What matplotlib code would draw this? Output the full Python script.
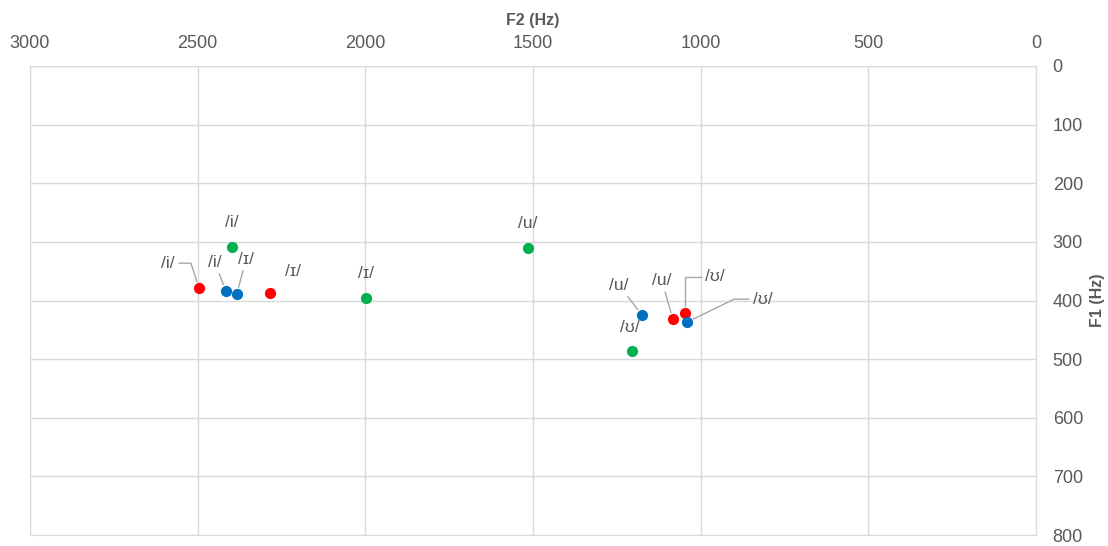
import matplotlib
matplotlib.use("Agg")
import matplotlib.pyplot as plt

plt.rcParams['font.family'] = ['Liberation Sans', 'DejaVu Sans']

# Data: three series (F2, F1) with vowel labels
red_f2 = [2496, 2284, 1083, 1047]
red_f1 = [379, 387, 432, 421]
red_lab = ['/i/', '/ɪ/', '/u/', '/ʊ/']

blue_f2 = [2416, 2383, 1175, 1041]
blue_f1 = [384, 389, 425, 437]
blue_lab = ['/i/', '/ɪ/', '/u/', '/ʊ/']

green_f2 = [2397, 1998, 1515, 1205]
green_f1 = [309, 396, 310, 486]
green_lab = ['/i/', '/ɪ/', '/u/', '/ʊ/']

x_ticks = [3000, 2500, 2000, 1500, 1000, 500, 0]
y_ticks = [0, 100, 200, 300, 400, 500, 600, 700, 800]

# label offsets in pixels (dx, dy) and leader style
red_off = [(-31, 25, 'angle,angleA=0,angleB=-72,rad=0'), (23, 21, None),
           (-11, 39, 'arc3'), (30, 36, 'angle,angleA=0,angleB=90,rad=0')]
blue_off = [(-11, 29, 'arc3'), (9, 35, 'arc3'),
            (-23, 30, 'arc3'), (76, 23, 'angle,angleA=0,angleB=26,rad=0')]
green_off = [(0, 25, None), (0, 25, None), (0, 24, None), (-2, 23, None)]

fig = plt.figure(figsize=(11.08, 5.46), dpi=100)
ax = fig.add_axes([30/1108, 1-535/546, (1036-30)/1108, (535-66)/546])

grid_c = '#d9d9d9'
text_c = '#595959'

for f2, f1, labs, offs, col in [
        (red_f2, red_f1, red_lab, red_off, '#FF0000'),
        (blue_f2, blue_f1, blue_lab, blue_off, '#0070C0'),
        (green_f2, green_f1, green_lab, green_off, '#00B050')]:
    ax.scatter(f2, f1, s=65, color=col, zorder=3, linewidths=0)
    for x, y, lab, (dx, dy, cs) in zip(f2, f1, labs, offs):
        kw = {}
        if cs is not None:
            kw['arrowprops'] = dict(arrowstyle='-', color='#a6a6a6', lw=1,
                                    shrinkA=1, shrinkB=5, connectionstyle=cs)
        ax.annotate(lab, (x, y), xytext=(dx, dy), textcoords='offset pixels',
                    ha='center', va='center', fontsize=12.5, color=text_c, **kw)

ax.set_xlim(3000, 0)
ax.set_ylim(800, 0)
ax.set_xticks(x_ticks)
ax.set_yticks(y_ticks)
ax.xaxis.tick_top()
ax.yaxis.tick_right()
ax.tick_params(axis='x', length=0, pad=10, labelsize=13, labelcolor=text_c)
ax.tick_params(axis='y', length=0, pad=12, labelsize=13, labelcolor=text_c)
ax.grid(True, color=grid_c, lw=1)
ax.set_axisbelow(True)
for s in ax.spines.values():
    s.set_color(grid_c)

ax.xaxis.set_label_position('top')
ax.yaxis.set_label_position('right')
ax.set_xlabel('F2 (Hz)', fontsize=11.5, fontweight='bold', color=text_c)
ax.set_ylabel('F1 (Hz)', fontsize=11.5, fontweight='bold', color=text_c)
ax.xaxis.set_label_coords(0.5, 1+41/469)
ax.yaxis.set_label_coords((1090-30)/1006, 1-(300-66)/469)

fig.savefig('out.png', dpi=100, facecolor='white')
